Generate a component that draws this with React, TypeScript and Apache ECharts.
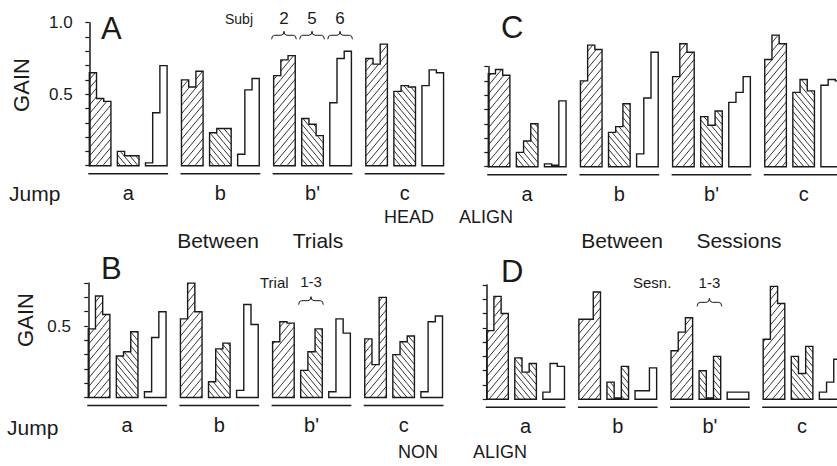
import React, { useEffect, useRef } from 'react';
import * as echarts from 'echarts';

// ---------------- data ----------------
const jumpLabels = ['a', 'b', "b'", 'c'];
const subjectLabels = ['2', '5', '6'];
const trialRangeLabels = ['1-3'];
const gainTickLabels = ['0.5', '1.0'];

// values: [jump][subject 2,5,6][trial/session 1..3]
// A : HEAD ALIGN, between trials
const headBetweenTrials = [
  [[0.65, 0.47, 0.45], [0.10, 0.07, 0.07], [0.02, 0.37, 0.70]],
  [[0.60, 0.55, 0.66], [0.23, 0.26, 0.26], [0.08, 0.53, 0.61]],
  [[0.63, 0.74, 0.77], [0.33, 0.29, 0.21], [0.44, 0.75, 0.80]],
  [[0.75, 0.71, 0.85], [0.52, 0.56, 0.55], [0.56, 0.67, 0.65]],
];
// C : HEAD ALIGN, between sessions
const headBetweenSessions = [
  [[0.65, 0.68, 0.64], [0.10, 0.18, 0.30], [0.02, 0.01, 0.46]],
  [[0.60, 0.85, 0.82], [0.24, 0.28, 0.44], [0.09, 0.48, 0.80]],
  [[0.63, 0.86, 0.80], [0.35, 0.29, 0.39], [0.45, 0.52, 0.63]],
  [[0.75, 0.92, 0.86], [0.52, 0.61, 0.53], [0.57, 0.61, 0.60]],
];
// B : NON ALIGN, between trials
const nonBetweenTrials = [
  [[0.48, 0.71, 0.58], [0.29, 0.32, 0.46], [0.04, 0.42, 0.60]],
  [[0.55, 0.80, 0.60], [0.11, 0.34, 0.38], [0.05, 0.65, 0.51]],
  [[0.39, 0.53, 0.52], [0.19, 0.32, 0.48], [0.04, 0.55, 0.45]],
  [[0.41, 0.23, 0.70], [0.30, 0.39, 0.43], [0.04, 0.53, 0.57]],
];
// D : NON ALIGN, between sessions
const nonBetweenSessions = [
  [[0.48, 0.72, 0.60], [0.29, 0.19, 0.25], [0.05, 0.25, 0.23]],
  [[0.56, 0.56, 0.75], [0.12, 0.01, 0.23], [0.06, 0.06, 0.22]],
  [[0.34, 0.47, 0.57], [0.20, 0.01, 0.30], [0.05, 0.05, 0.05]],
  [[0.42, 0.79, 0.67], [0.30, 0.18, 0.37], [0.05, 0.12, 0.28]],
];

// ---------------- layout ----------------
const FONT = '"Liberation Sans", Arial, Helvetica, sans-serif';
const INK = '#1a1a1a';
const CHART_W = 837;
const UNIT = 7.2; // px per bar
const PX_PER_GAIN = 143;
const GROUP_PITCH = 12.8; // in bar units
const SUBJ_PITCH = 3.9;
const SLOPE = 1.2;
const GRID_W = 380;

const panels = [
  { values: headBetweenTrials, left: 82.7, base: 165.7, yMax: 1.0, off: 0.92, labels: true,
    braceSubj: [0, 1, 2], braceLabels: subjectLabels, braceV: 0.94, braceTextV: 1.03 },
  { values: nonBetweenTrials, left: 81, base: 397.5, yMax: 0.8, off: 1.01, labels: true,
    braceSubj: [1], braceLabels: trialRangeLabels, braceV: 0.705, braceTextV: 0.81 },
  { values: headBetweenSessions, left: 477.7, base: 166.7, yMax: 0.7, off: 1.47, labels: false,
    braceSubj: [], braceLabels: [], braceV: 0, braceTextV: 0 },
  { values: nonBetweenSessions, left: 478, base: 399.3, yMax: 0.8, off: 1.21, labels: false,
    braceSubj: [1], braceLabels: trialRangeLabels, braceV: 0.706, braceTextV: 0.82 },
];

function hatchLines(x0: number, x1: number, yt: number, yb: number, dir: number, d: number, m: number) {
  const out: any[] = [];
  if (yb - yt < 0.8) return out;
  const style = { stroke: INK, lineWidth: 0.9 };
  if (dir === 1) {
    const cmin = yt + m * x0, cmax = yb + m * x1;
    for (let k = Math.ceil(cmin / d); k * d <= cmax; k++) {
      const c = k * d;
      const xa = Math.max(x0, (c - yb) / m), xb = Math.min(x1, (c - yt) / m);
      if (xb - xa > 0.3) out.push({ type: 'line', shape: { x1: xa, y1: c - m * xa, x2: xb, y2: c - m * xb }, style });
    }
  } else {
    const cmin = yt - m * x1, cmax = yb - m * x0;
    for (let k = Math.ceil(cmin / d); k * d <= cmax; k++) {
      const c = k * d;
      const xa = Math.max(x0, (yt - c) / m), xb = Math.min(x1, (yb - c) / m);
      if (xb - xa > 0.3) out.push({ type: 'line', shape: { x1: xa, y1: c + m * xa, x2: xb, y2: c + m * xb }, style });
    }
  }
  return out;
}

const renderBars = (params: any, api: any) => {
  const x = api.value(0);
  const vals = [api.value(1), api.value(2), api.value(3)];
  const s = api.value(4);
  const base = api.coord([x, 0])[1];
  const xs = [0, 1, 2, 3].map((t) => api.coord([x + t, 0])[0]);
  const tops = vals.map((v: number) => api.coord([x, v])[1]);
  const children: any[] = [];
  const hatch = s === 0 ? { dir: 1, d: 8.5 } : s === 1 ? { dir: -1, d: 7 } : null;
  if (hatch) {
    for (let t = 0; t < 3; t++) children.push(...hatchLines(xs[t], xs[t + 1], tops[t], base, hatch.dir, hatch.d, SLOPE));
  }
  const pts = [
    [xs[0], base], [xs[0], tops[0]], [xs[1], tops[0]], [xs[1], tops[1]],
    [xs[2], tops[1]], [xs[2], tops[2]], [xs[3], tops[2]], [xs[3], base],
  ];
  children.push({ type: 'polygon', shape: { points: pts }, style: { fill: 'none', stroke: INK, lineWidth: 1.4 } });
  return { type: 'group', children };
};

const renderGroup = (params: any, api: any) => {
  const x = api.value(0);
  const g = api.value(1);
  const [xl, base] = api.coord([x, 0]);
  const xr = api.coord([x + 2 * SUBJ_PITCH + 3, 0])[0];
  return {
    type: 'group',
    children: [
      { type: 'line', shape: { x1: xl - 1, y1: base + 8, x2: xr + 1, y2: base + 8 }, style: { stroke: INK, lineWidth: 1.6 } },
      {
        type: 'text', x: (xl + xr) / 2, y: base + 27,
        style: { text: jumpLabels[g], fill: INK, fontSize: 20, fontFamily: FONT, align: 'center', verticalAlign: 'middle' },
      },
    ],
  };
};

const makeRenderBrace = (p: any) => (params: any, api: any) => {
  const x = api.value(0);
  const li = api.value(1);
  const [xl0, y0] = api.coord([x, p.braceV]);
  const xr0 = api.coord([x + 3, 0])[0];
  const xl = xl0 - 2, xr = xr0 + 1;
  const xm = (xl + xr) / 2;
  const h = 8, r = 3;
  const ym = y0 + h / 2;
  const d = `M${xl},${y0 + h} Q${xl},${ym} ${xl + r},${ym} L${xm - r},${ym} Q${xm},${ym} ${xm},${y0} Q${xm},${ym} ${xm + r},${ym} L${xr - r},${ym} Q${xr},${ym} ${xr},${y0 + h}`;
  const ty = api.coord([x, p.braceTextV])[1];
  return {
    type: 'group',
    children: [
      { type: 'path', shape: { pathData: d }, style: { fill: 'none', stroke: INK, lineWidth: 1 } },
      {
        type: 'text', x: xm, y: ty,
        style: { text: p.braceLabels[li], fill: INK, fontSize: p.braceLabels.length > 1 ? 17 : 15, fontFamily: FONT, align: 'center', verticalAlign: 'middle' },
      },
    ],
  };
};

const txt = (text: string, x: number, y: number, size: number, align = 'left', rotation = 0) => ({
  type: 'text', x, y, rotation,
  style: {
    text, fill: INK, font: `${size}px ${FONT}`,
    align, verticalAlign: 'middle', textAlign: align, textVerticalAlign: 'middle',
  },
});

export default function App() {
  const ref = useRef<HTMLDivElement>(null);
  useEffect(() => {
    if (!ref.current) return;
    const chart = echarts.init(ref.current, undefined, { renderer: 'svg' });
    const grid: any[] = [], xAxis: any[] = [], yAxis: any[] = [], series: any[] = [];
    panels.forEach((p, i) => {
      const h = p.yMax * PX_PER_GAIN;
      const w = Math.min(GRID_W, CHART_W - p.left);
      grid.push({ left: p.left, top: p.base - h, width: w, height: h, containLabel: false });
      xAxis.push({ type: 'value', gridIndex: i, min: -p.off, max: -p.off + w / UNIT, show: false });
      yAxis.push({
        type: 'value', gridIndex: i, min: 0, max: p.yMax, interval: 0.1,
        axisLine: { show: true, lineStyle: { color: INK, width: 1.5 } },
        axisTick: { show: true, inside: false, length: 4, lineStyle: { color: INK, width: 1.2 } },
        splitLine: { show: false },
        axisLabel: {
          show: p.labels, margin: 10, color: INK, fontSize: 17, fontFamily: FONT,
          formatter: (v: number) => {
            const hit = gainTickLabels.find((l) => Math.abs(parseFloat(l) - v) < 1e-6);
            return hit || '';
          },
        },
      });
      const barData: any[] = [];
      p.values.forEach((grp, g) => grp.forEach((vals, s) => {
        barData.push([g * GROUP_PITCH + s * SUBJ_PITCH, vals[0], vals[1], vals[2], s]);
      }));
      series.push({ type: 'custom', xAxisIndex: i, yAxisIndex: i, renderItem: renderBars, data: barData, clip: false, silent: true });
      series.push({
        type: 'custom', xAxisIndex: i, yAxisIndex: i, renderItem: renderGroup, clip: false, silent: true,
        data: jumpLabels.map((_, g) => [g * GROUP_PITCH, g]),
      });
      if (p.braceSubj.length) {
        series.push({
          type: 'custom', xAxisIndex: i, yAxisIndex: i, renderItem: makeRenderBrace(p), clip: false, silent: true,
          data: p.braceSubj.map((s, k) => [2 * GROUP_PITCH + s * SUBJ_PITCH, k]),
        });
      }
    });
    const graphic = [
      txt('A', 101, 28, 31), txt('C', 501, 27, 31), txt('B', 101, 268, 31), txt('D', 501, 271, 31),
      txt('GAIN', 21.7, 85, 22, 'center', Math.PI / 2), txt('GAIN', 25, 320, 22, 'center', Math.PI / 2),
      txt('Jump', 9, 193, 21), txt('Jump', 7, 427, 21),
      txt('Subj', 239, 19, 14, 'center'),
      txt('HEAD', 409, 217, 18, 'center'), txt('ALIGN', 513, 217, 18, 'right'),
      txt('Between', 218, 240, 21, 'center'), txt('Trials', 318, 240, 21, 'center'),
      txt('Between', 622, 240, 21, 'center'), txt('Sessions', 739, 240, 21, 'center'),
      txt('NON', 398, 452, 18), txt('ALIGN', 527, 452, 18, 'right'),
      txt('Trial', 260, 282, 15), txt('Sesn.', 633, 282, 15),
    ];
    chart.setOption({ animation: false, backgroundColor: '#fff', grid, xAxis, yAxis, series, graphic });
    return () => chart.dispose();
  }, []);
  return <div ref={ref} style={{ position: 'absolute', left: 0, top: 0, width: 837, height: 466 }} />;
}
